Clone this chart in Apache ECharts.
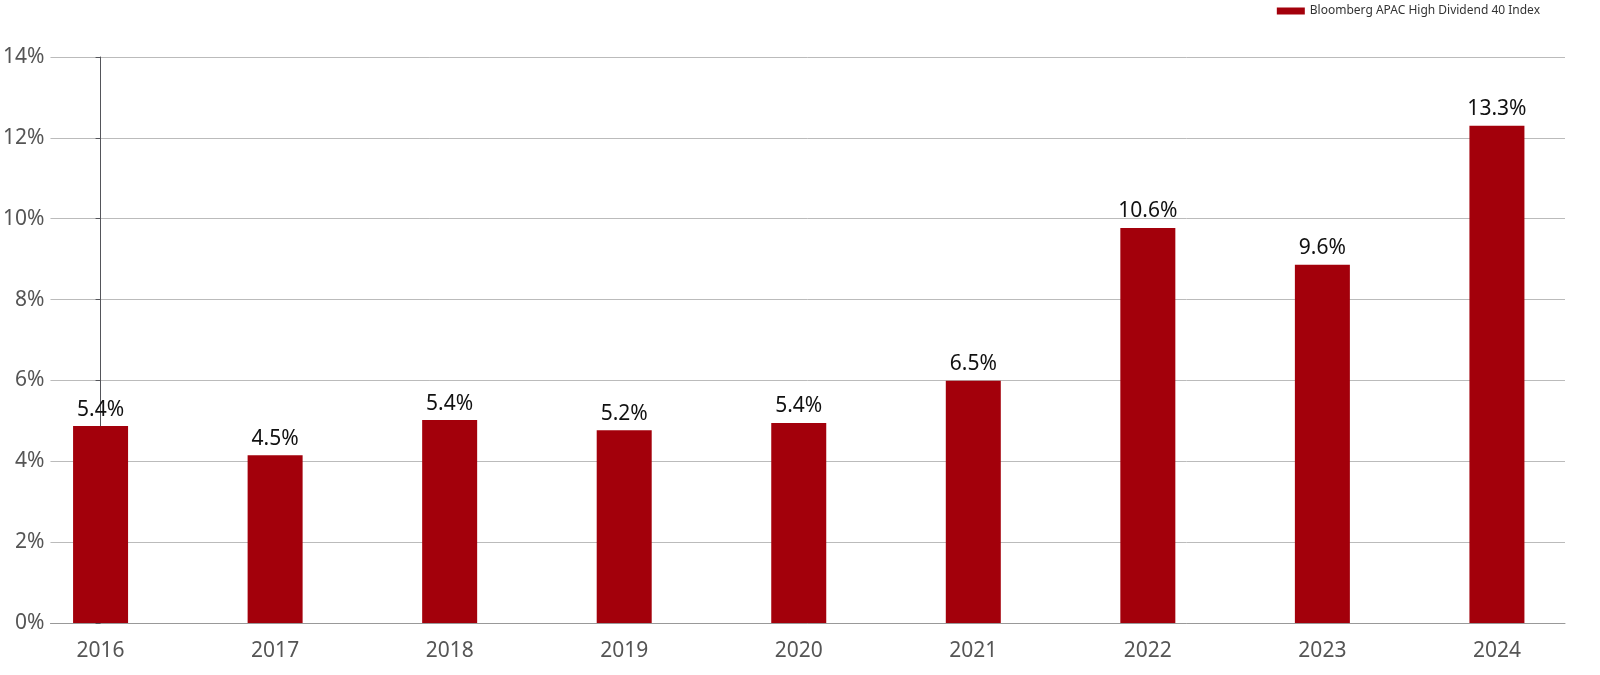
<!DOCTYPE html>
<html><head><meta charset="utf-8">
<script src="https://cdn.jsdelivr.net/npm/echarts@6/dist/echarts.min.js"></script>
<style>html,body{margin:0;padding:0;background:#fff}#c{width:1600px;height:675px}</style>
</head><body><div id="c"></div>
<script>
const categories = ['2016','2017','2018','2019','2020','2021','2022','2023','2024'];
const labels = ['5.4%','4.5%','5.4%','5.2%','5.4%','6.5%','10.6%','9.6%','13.3%'];
const barTops = [5.37,4.65,5.52,5.27,5.45,6.49,10.27,9.36,12.8];
const barBase = 0.5;

const chart = echarts.init(document.getElementById('c'));
chart.setOption({
  animation:false,
  textStyle:{fontFamily:'Noto Sans'},
  legend:{right:55,top:0,itemWidth:28,itemHeight:7,icon:'rect',
    textStyle:{fontSize:12,color:'#333'},data:['Bloomberg APAC High Dividend 40 Index']},
  grid:{left:50,right:35,top:57,bottom:52},
  xAxis:{type:'value',min:-0.287,max:8.39,splitLine:{show:false},
    axisLine:{show:true,lineStyle:{color:'#999'}},axisTick:{show:false},
    axisLabel:{fontSize:21,color:'#555',margin:18,customValues:categories.map((c,i)=>i),
      formatter:v=>categories[Math.round(v)]}},
  yAxis:{type:'value',min:0,max:14,interval:2,
    axisLabel:{fontSize:21,color:'#555',formatter:v=>v+'%',margin:6},
    splitLine:{lineStyle:{color:'#bbb'}}},
  series:[
    {type:'bar',stack:'s',data:categories.map((c,i)=>[i,barBase]),itemStyle:{color:'transparent'},barWidth:55,silent:true},
    {name:'Bloomberg APAC High Dividend 40 Index',type:'bar',stack:'s',barWidth:55,
     data:barTops.map((v,i)=>[i,+(v-barBase).toFixed(2)]),
     itemStyle:{color:'#a3000b'},
     label:{show:true,position:'top',fontSize:21,color:'#111',distance:6,
       formatter:p=>labels[p.dataIndex]}}
  ]
});
</script></body></html>
